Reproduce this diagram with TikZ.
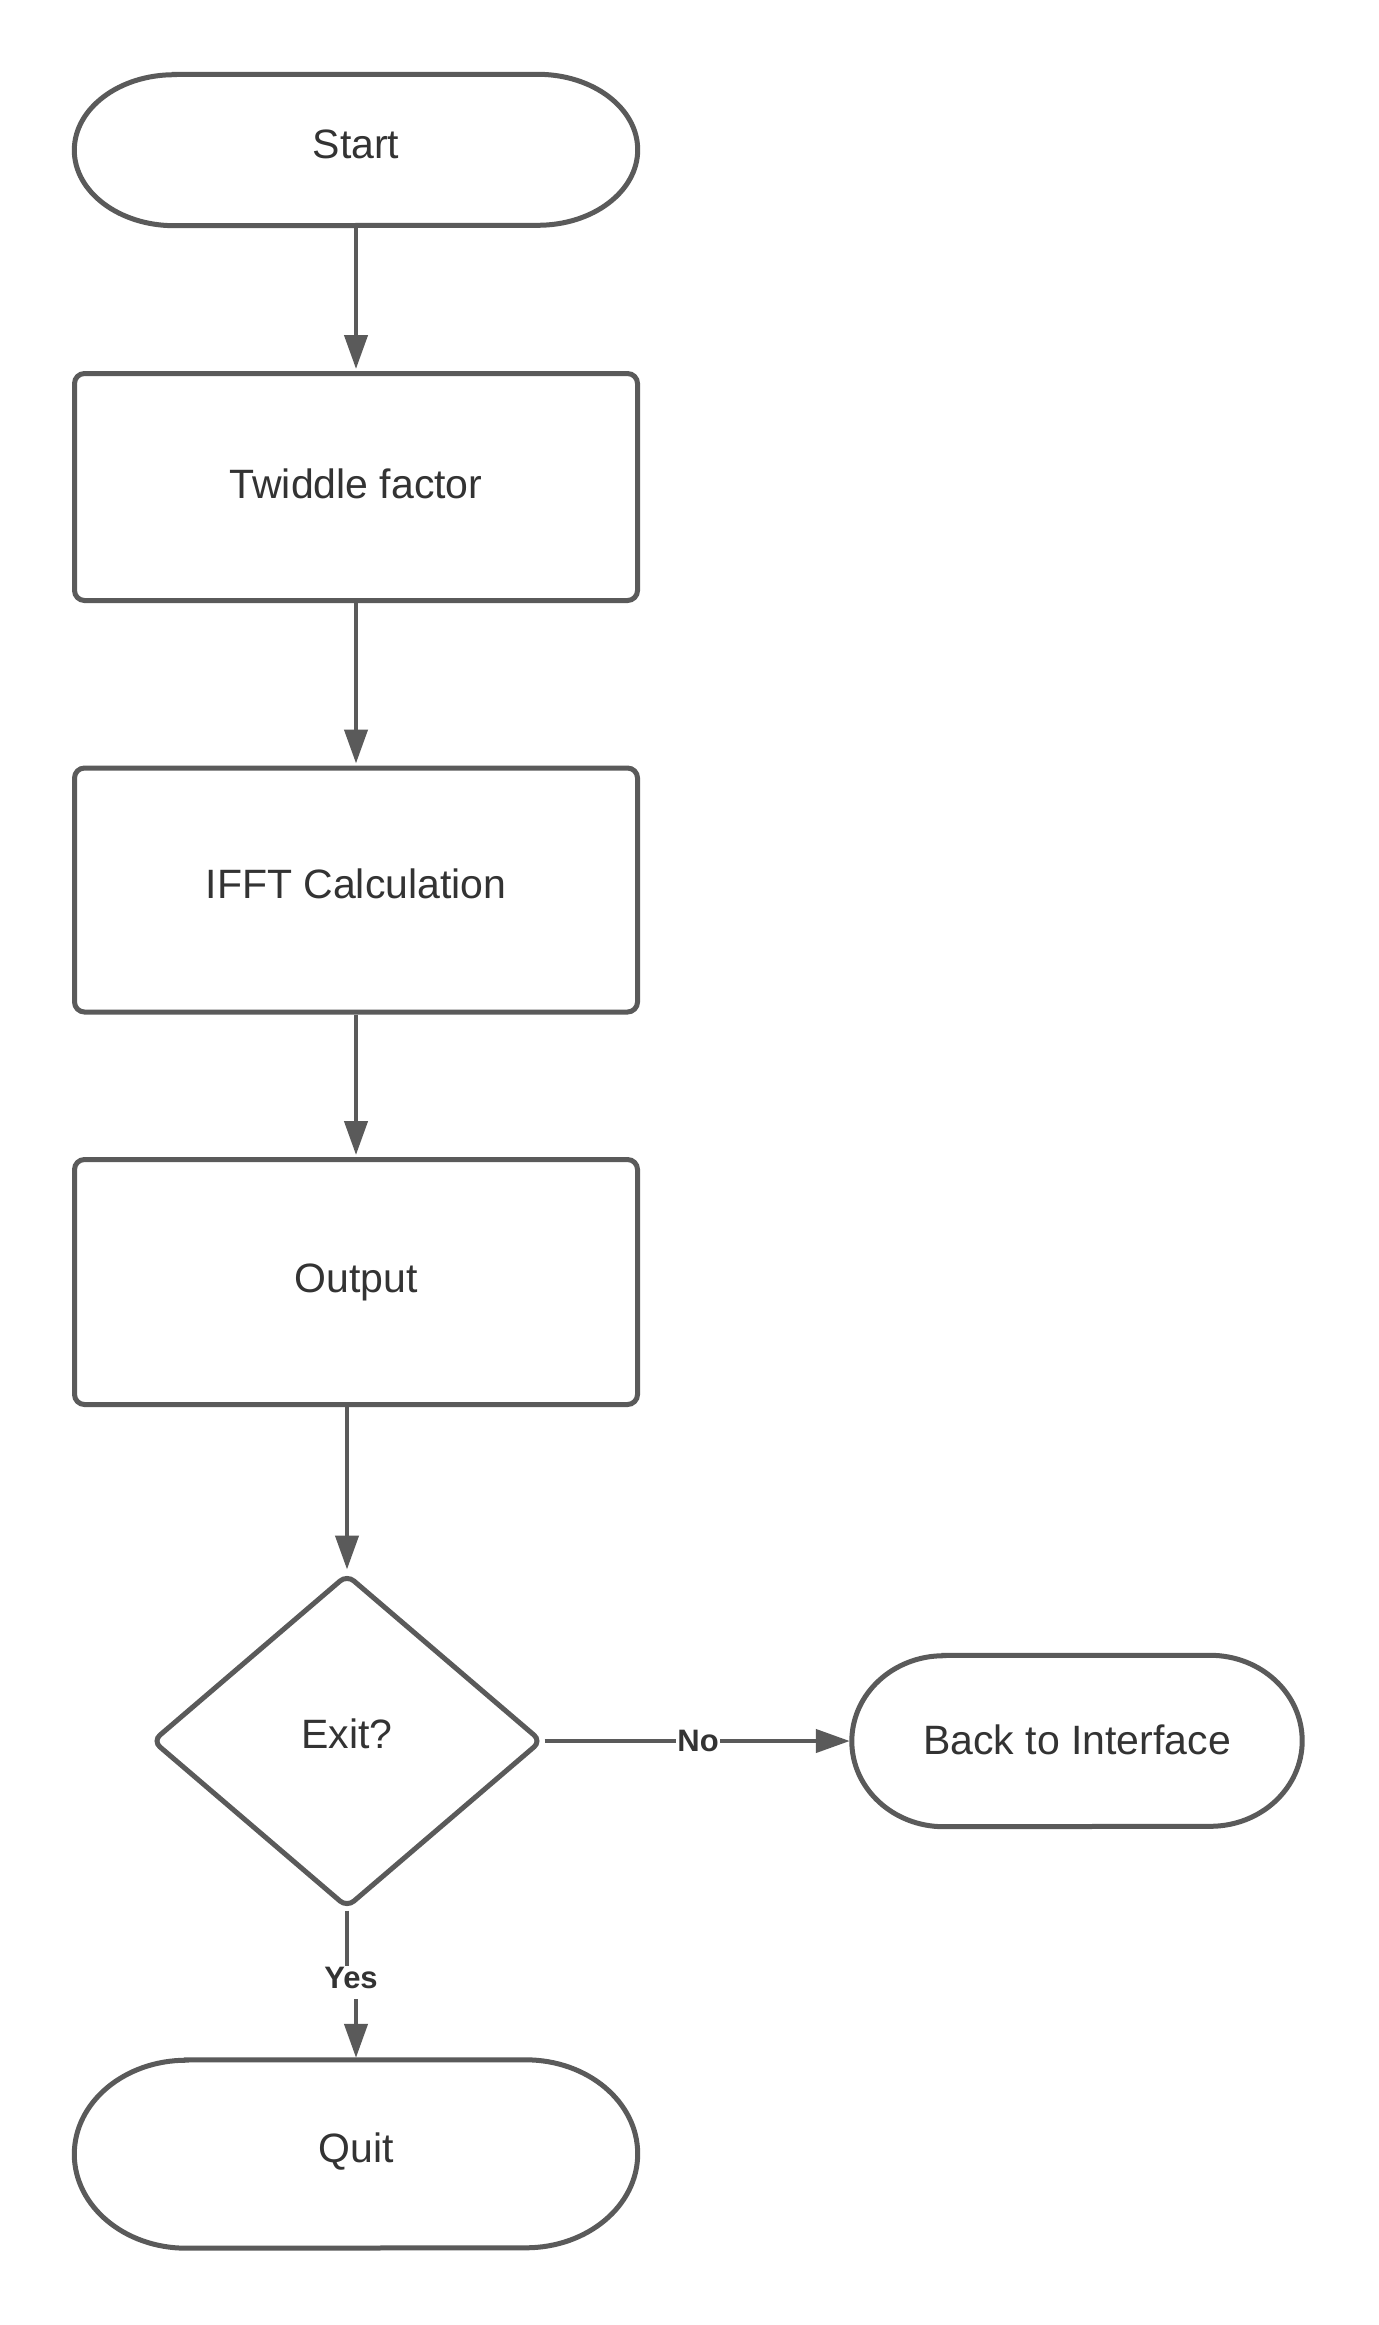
\documentclass[tikz,border=0pt]{standalone}
\usepackage{fontspec}
\setmainfont{Liberation Sans}
\usetikzlibrary{shapes.geometric,arrows.meta,calc}
\definecolor{linegray}{HTML}{5A5A5A}
\definecolor{textgray}{HTML}{333333}
\newcommand\stadiumborder[3]{%
  \draw[shapeline] ($(#1.north west)+(#2,0pt)$) -- ($(#1.north east)+(-#2,0pt)$)
    arc[start angle=90,end angle=-90,x radius=#2,y radius=#3]
    -- ($(#1.south west)+(#2,0pt)$)
    arc[start angle=270,end angle=90,x radius=#2,y radius=#3] -- cycle;}
\newcommand\liftText[2]{\raisebox{#1}[\height][\depth]{#2}}
\tikzset{
  shapeline/.style={draw=linegray,line width=5pt},
  txt/.style={text=textgray,font=\fontsize{41}{49}\selectfont},
  procbox/.style={shapeline,txt,rectangle,rounded corners=10pt,minimum width=563pt},
  termnode/.style={txt,rectangle,draw=none,inner sep=0pt},
  decision/.style={shapeline,txt,diamond,rounded corners=9pt,inner sep=0pt},
  flow/.style={draw=linegray,line width=4.3pt,shorten >=2pt,-{Triangle[length=34pt,width=23pt]}},
  plainflow/.style={draw=linegray,line width=4.3pt},
  edgelabel/.style={text=textgray,font=\bfseries\fontsize{31}{37}\selectfont,fill=white,inner sep=1pt}
}
\begin{document}
\begin{tikzpicture}[x=1pt,y=-1pt]
\useasboundingbox[fill=white] (0,0) rectangle (1378,2325);
\node[termnode,minimum width=563pt,minimum height=151pt] (start) at (356,150) {\liftText{6pt}{Start}};
\stadiumborder{start}{100pt}{75.5pt}
\node[procbox,minimum height=227pt] (tw) at (356,487) {\liftText{3pt}{Twiddle factor}};
\node[procbox,minimum height=244pt] (ifft) at (356,890) {\liftText{6pt}{IFFT Calculation}};
\node[procbox,minimum height=245pt] (out) at (356,1282) {Output};
\node[decision,minimum width=390pt,minimum height=334pt] (dia) at (347,1741) {\liftText{7pt}{Exit?}};
\node[termnode,minimum width=450pt,minimum height=171pt] (back) at (1077,1741) {\liftText{1.5pt}{Back to Interface}};
\stadiumborder{back}{92pt}{85.5pt}
\node[termnode,minimum width=563pt,minimum height=188pt] (quit) at (356,2154) {\liftText{3pt}{Quit}};
\stadiumborder{quit}{112pt}{94pt}
\draw[flow] (start.south) -- (tw.north);
\draw[flow] (tw.south) -- (ifft.north);
\draw[flow] (ifft.south) -- (out.north);
\draw[flow] (out.south -| dia.north) -- (dia.north);
\draw[flow] (dia.east) -- node[edgelabel] (nolab) {No} (back.west);
\node[edgelabel,anchor=center] (yeslab) at (351,1978) {Yes};
\draw[plainflow] (dia.south) -- (dia.south |- yeslab.north);
\draw[flow,shorten <=9pt] (yeslab.south -| quit.north) -- (quit.north);
\end{tikzpicture}
\end{document}
